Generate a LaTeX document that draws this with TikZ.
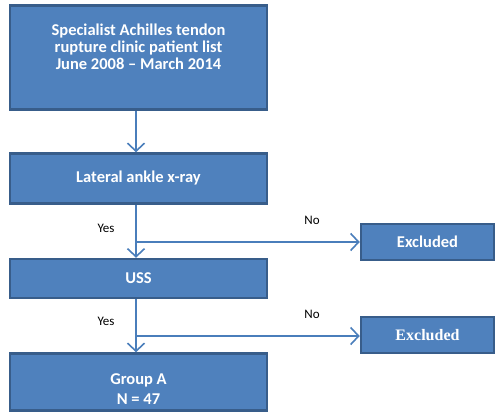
\documentclass[tikz,border=0pt]{standalone}
\usepackage{fontspec}
\setmainfont{Carlito}
\newfontfamily\timesfont{Liberation Serif}
\usetikzlibrary{arrows.meta}

\definecolor{boxblue}{HTML}{4F81BD}
\definecolor{edgeblue}{HTML}{385D8A}
\definecolor{lineblue}{HTML}{4A7EBB}

\begin{document}
\begin{tikzpicture}[x=1pt, y=-1pt,
    box/.style={draw=edgeblue, line width=2.5pt, fill=boxblue, text=white,
        font=\fontsize{16.5}{17}\selectfont\bfseries, align=center,
        minimum width=257pt, inner sep=0pt},
    exbox/.style={box, minimum width=133pt, minimum height=36pt},
    flow/.style={lineblue, line width=1.6pt, -{Straight Barb[length=8pt,width=17pt]}},
    answer/.style={font=\fontsize{13}{15}\selectfont}]
    \useasboundingbox (0,0) rectangle (500,418);

    % main column
    \node (list) [box, minimum height=104pt, text depth=21pt] at (138.5,57.5)
        {Specialist Achilles tendon\\ rupture clinic patient list\\ June 2008 -- March 2014};
    \node (xray) [box, minimum height=50pt] at (138.5,178.5) {Lateral ankle x-ray};
    \node (uss) [box, minimum height=39pt] at (138.5,278.5) {USS};
    \node (groupA) [box, minimum height=57pt, text height=44pt] at (138.5,382) {Group A\\[3pt] N = 47};

    % excluded boxes
    \node (excl1) [exbox] at (427.5,242) {Excluded};
    \node (excl2) [exbox, font=\fontsize{16}{18}\timesfont\bfseries] at (427.5,335) {Excluded};

    % branch points
    \coordinate (b1) at (136,242);
    \coordinate (b2) at (136,336);

    \draw[flow] (list.south -| b1) -- (xray.north -| b1);
    \draw[flow] (xray.south -| b1) -- (uss.north -| b1);
    \draw[flow] (b1) -- (excl1.west);
    \draw[flow] (uss.south -| b2) -- (groupA.north -| b2);
    \draw[flow] (b2) -- (excl2.west |- b2);

    % labels
    \node (yes1) [answer] at (106,228) {Yes};
    \node (no1) [answer] at (312,220) {No};
    \node (yes2) [answer] at (106,321) {Yes};
    \node (no2) [answer] at (312,314) {No};
\end{tikzpicture}
\end{document}
